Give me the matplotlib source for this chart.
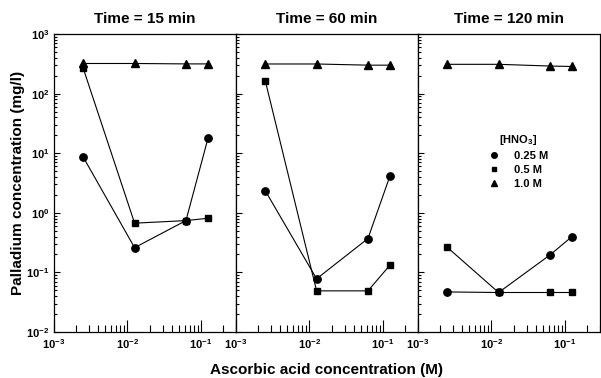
import numpy as np
import matplotlib
matplotlib.use('Agg')
import matplotlib.pyplot as plt
from matplotlib.ticker import FixedLocator, LogLocator, NullFormatter, FixedFormatter
from matplotlib.lines import Line2D

plt.rcParams['font.family'] = ['Liberation Sans', 'DejaVu Sans']
plt.rcParams['font.weight'] = 'bold'
plt.rcParams['mathtext.fontset'] = 'custom'
plt.rcParams['mathtext.rm'] = 'Liberation Sans:bold'
plt.rcParams['mathtext.bf'] = 'Liberation Sans:bold'
plt.rcParams['mathtext.it'] = 'Liberation Sans:bold:italic'

# Ascorbic acid concentration (M), same for every panel
ascorbic = [0.0025, 0.0125, 0.0625, 0.125]

panel_titles = ['Time = 15 min', 'Time = 60 min', 'Time = 120 min']

# Palladium concentration (mg/l) for each HNO3 level, one row per panel
pd_025 = [[8.6, 0.26, 0.74, 18.0],
          [2.35, 0.078, 0.37, 4.2],
          [0.047, 0.046, 0.196, 0.40]]
pd_05 = [[265, 0.67, 0.74, 0.81],
         [165, 0.049, 0.049, 0.133],
         [0.264, 0.046, 0.046, 0.046]]
pd_10 = [[320, 320, 315, 315],
         [314, 314, 300, 300],
         [310, 310, 290, 285]]

series_labels = ['0.25 M', '0.5 M', '1.0 M']
series_markers = ['o', 's', '^']
series_sizes = [5.3, 4.8, 5.3]

x_major = [1e-3, 1e-2, 1e-1]
x_major_labels = [r'$10^{-3}$', r'$10^{-2}$', r'$10^{-1}$']
y_major = [1e-2, 1e-1, 1e0, 1e1, 1e2, 1e3]
y_major_labels = [r'$10^{-2}$', r'$10^{-1}$', r'$10^{0}$', r'$10^{1}$', r'$10^{2}$', r'$10^{3}$']

fig = plt.figure(figsize=(6.01, 3.78), dpi=100)

W, H = 601.0, 378.0
left0 = 54
pw = 182
bottom = (H - 332) / H
height = 298 / H

axes = []
for i in range(3):
    ax = fig.add_axes([(left0 + i * pw) / W, bottom, pw / W, height])
    axes.append(ax)

    data = [pd_025[i], pd_05[i], pd_10[i]]
    for vals, m, ms, lab in zip(data, series_markers, series_sizes, series_labels):
        ax.plot(ascorbic, vals, color='black', lw=0.8, marker=m, ms=ms,
                mfc='black', mec='black', label=lab)

    ax.set_xscale('log')
    ax.set_yscale('log')
    ax.set_xlim(1e-3, 0.3)
    ax.set_ylim(1e-2, 1e3)

    ax.xaxis.set_major_locator(FixedLocator(x_major))
    ax.xaxis.set_major_formatter(FixedFormatter(x_major_labels))
    ax.xaxis.set_minor_locator(LogLocator(base=10, subs=np.arange(2, 10)))
    ax.xaxis.set_minor_formatter(NullFormatter())

    ax.yaxis.set_major_locator(FixedLocator(y_major))
    ax.yaxis.set_major_formatter(FixedFormatter(y_major_labels))
    ax.yaxis.set_minor_locator(LogLocator(base=10, subs=np.arange(2, 10)))
    ax.yaxis.set_minor_formatter(NullFormatter())

    ax.tick_params(which='both', direction='in', top=False, right=False,
                   labelsize=8, width=0.8)
    ax.tick_params(axis='x', which='major', length=9)
    ax.tick_params(axis='x', which='minor', length=5)
    ax.tick_params(axis='y', which='major', length=4.5)
    ax.tick_params(axis='y', which='minor', length=2.5)
    if i > 0:
        ax.tick_params(axis='y', labelleft=False)

    for sp in ax.spines.values():
        sp.set_linewidth(0.9)

    ax.set_title(panel_titles[i], fontsize=11, fontweight='bold', pad=8)

axes[0].set_ylabel('Palladium concentration (mg/l)', fontsize=11,
                   fontweight='bold', labelpad=1)
fig.text((left0 + 1.5 * pw) / W, 0.003, 'Ascorbic acid concentration (M)',
         ha='center', va='bottom', fontsize=11, fontweight='bold')

# Legend sits inside the last panel
handles = [Line2D([], [], ls='none', marker=m, ms=ms - 1.3, color='black')
           for m, ms in zip(series_markers, series_sizes)]
leg = axes[2].legend(handles, series_labels, title=r'[HNO$_3$]', frameon=False,
                     loc='upper left', bbox_to_anchor=(0.33, 0.7),
                     prop={'size': 8, 'weight': 'bold'},
                     handlelength=1.0, handletextpad=1.3, labelspacing=0.35)
leg.get_title().set_fontsize(8)
leg.get_title().set_fontweight('bold')

fig.savefig('out.png', dpi=100)
